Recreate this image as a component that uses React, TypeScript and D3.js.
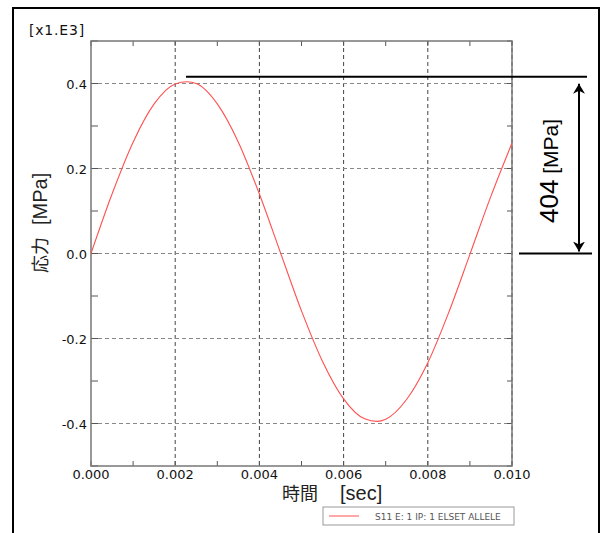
import React from 'react';
import * as d3 from 'd3';

// stress values (unit: x1.E3 MPa)
const timeSec = [
  0, 0.0005, 0.001, 0.0015, 0.002, 0.00228, 0.0025, 0.003, 0.0035, 0.004, 0.0045,
  0.005, 0.0055, 0.006, 0.0065, 0.0068, 0.007, 0.0075, 0.008, 0.0085, 0.009,
  0.0095, 0.01,
];
const stress = [
  0, 0.14, 0.262, 0.352, 0.399, 0.404, 0.4, 0.352, 0.262, 0.14, 0.002,
  -0.135, -0.254, -0.342, -0.389, -0.395, -0.39, -0.343, -0.257, -0.138, -0.002,
  0.135, 0.26,
];
const xTicks = [0, 0.002, 0.004, 0.006, 0.008, 0.01];
const xMinor = [0.001, 0.003, 0.005, 0.007, 0.009];
const yTicks = [-0.4, -0.2, 0, 0.2, 0.4];
const yMinor = [-0.5, -0.3, -0.1, 0.1, 0.3, 0.5];
const peakValue = 404;
const legendLabel = 'S11 E: 1 IP: 1 ELSET ALLELE';

const W = 601, H = 533;
const L = 91, R = 512, T = 41, B = 466;

// plain hyphen for negatives, like the original plot
const fmt = (f: string) => (v: number) => d3.format(f)(v).replace('\u2212', '-');

export default function App() {
  const x = d3.scaleLinear().domain([0, 0.01]).range([L, R]);
  const y = d3.scaleLinear().domain([-0.5, 0.5]).range([B, T]);
  const pts = timeSec.map((t, i) => [t, stress[i]] as [number, number]);
  const line = d3.line<[number, number]>()
    .x(d => x(d[0]))
    .y(d => y(d[1]))
    .curve(d3.curveMonotoneX);

  const tickFont = "'DejaVu Sans', Verdana, sans-serif";
  const arial = "'Liberation Sans', Arial, sans-serif";
  const cjk = "'Noto Sans CJK JP', sans-serif";

  const yPeak = y(peakValue / 1000);
  const yZero = y(0);
  const ax = 579;

  return (
    <svg width={W} height={H} style={{ position: 'absolute', left: 0, top: 0, background: '#fff' }}>
      <defs>
        <marker id="ah" viewBox="0 0 10 16" refX="10" refY="8" markerWidth="10" markerHeight="16"
          markerUnits="userSpaceOnUse" orient="auto-start-reverse">
          <path d="M0,2 L10,8 L0,14 L3,8 Z" fill="#000" />
        </marker>
      </defs>
      {/* outer frame */}
      <rect x={13} y={8} width={586} height={560} fill="none" stroke="#000" strokeWidth={2} />

      {/* grid */}
      {xTicks.slice(1).map(t => (
        <line key={'gx' + t} x1={x(t)} x2={x(t)} y1={T} y2={B} stroke="#444" strokeWidth={1} strokeDasharray="4,3" />
      ))}
      {yTicks.map(v => (
        <line key={'gy' + v} x1={L} x2={R} y1={y(v)} y2={y(v)} stroke="#888" strokeWidth={1.2} strokeDasharray="4,3" />
      ))}

      {/* ticks, inward on all sides */}
      {[...xTicks, ...xMinor].map(t => (
        <g key={'tx' + t} stroke="#555">
          <line x1={x(t)} x2={x(t)} y1={B} y2={B - 5} />
          <line x1={x(t)} x2={x(t)} y1={T} y2={T + 5} />
        </g>
      ))}
      {[...yTicks, ...yMinor].map(v => (
        <g key={'ty' + v} stroke="#555">
          <line x1={L} x2={L + 7} y1={y(v)} y2={y(v)} />
          <line x1={R} x2={R - 5} y1={y(v)} y2={y(v)} />
        </g>
      ))}

      <rect x={L} y={T} width={R - L} height={B - T} fill="none" stroke="#777" strokeWidth={1.5} />

      {/* curve */}
      <path d={line(pts) ?? ''} fill="none" stroke="#ff5050" strokeWidth={1.1} />

      {/* tick labels */}
      {xTicks.map(t => (
        <text key={'lx' + t} x={x(t)} y={479} textAnchor="middle" fontFamily={tickFont} fontSize={13} fill="#111">
          {fmt('.3f')(t)}
        </text>
      ))}
      {yTicks.map(v => (
        <text key={'ly' + v} x={87} y={y(v) + 5} textAnchor="end" fontFamily={tickFont} fontSize={13} fill="#111">
          {fmt('.1f')(v)}
        </text>
      ))}
      <text x={29} y={35} fontFamily={tickFont} fontSize={14} letterSpacing={0.8} fill="#111">[x1.E3]</text>

      {/* axis titles */}
      <text transform="translate(47,273) rotate(-90)" fill="#222">
        <tspan fontFamily={cjk} fontSize={18}>応力</tspan>
        <tspan dx={12} fontFamily={arial} fontSize={20}>[MPa]</tspan>
      </text>
      <text x={282} y={500} fill="#222">
        <tspan fontFamily={cjk} fontSize={18}>時間</tspan>
        <tspan dx={22} fontFamily={arial} fontSize={20}>[sec]</tspan>
      </text>

      {/* amplitude annotation */}
      <line x1={186} x2={587} y1={yPeak - 5} y2={yPeak - 5} stroke="#000" strokeWidth={2} />
      <line x1={519} x2={592} y1={yZero} y2={yZero} stroke="#000" strokeWidth={2} />
      <line x1={ax} x2={ax} y1={yPeak + 2} y2={yZero - 2} stroke="#000" strokeWidth={2}
        markerStart="url(#ah)" markerEnd="url(#ah)" />
      <text transform="translate(558,223) rotate(-90)" fill="#000" fontFamily={arial}>
        <tspan fontSize={26}>{peakValue}</tspan>
        <tspan fontSize={21}> [MPa]</tspan>
      </text>

      {/* legend */}
      <rect x={323} y={507} width={191} height={18} fill="#fff" stroke="#999" strokeWidth={1} />
      <line x1={329} x2={359} y1={516} y2={516} stroke="#ff5050" strokeWidth={1} />
      <text x={375} y={519.5} fontFamily={tickFont} fontSize={9} fill="#555">{legendLabel}</text>
    </svg>
  );
}
